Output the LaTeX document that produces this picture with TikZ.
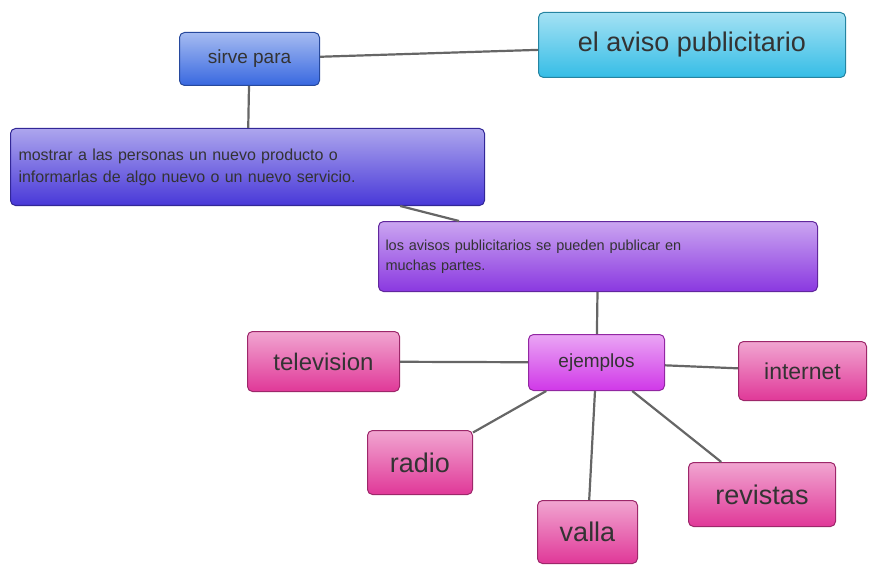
\documentclass[tikz,border=0pt]{standalone}
\usepackage{fontspec}
\setmainfont{Liberation Sans}
\begin{document}
\begin{tikzpicture}[x=1pt,y=-1pt,
  box/.style={draw=#1!70!black, line width=1pt, rounded corners=5pt, top color=#1!45!white, bottom color=#1, text=black!80, inner sep=0pt, anchor=north west},
  edge/.style={draw=black!60, line width=2.2pt}]
\useasboundingbox (0,0) rectangle (876,575);
\definecolor{cA}{HTML}{35BDE6}
\definecolor{cB}{HTML}{3868E0}
\definecolor{cC}{HTML}{4838D8}
\definecolor{cD}{HTML}{8A38E0}
\definecolor{cE}{HTML}{D038E8}
\definecolor{cF}{HTML}{E03898}
\node[box=cA, minimum width=307pt, minimum height=65pt, font=\fontsize{27}{30}\selectfont] (aviso) at (538,12) {el aviso publicitario};
\node[box=cB, minimum width=140pt, minimum height=53pt, font=\fontsize{19}{22}\selectfont] (sirve) at (179,32) {sirve para};
\node[box=cC, minimum width=474pt, minimum height=77pt, font=\fontsize{16}{22}\selectfont, align=left, text width=458pt, inner xsep=8pt] (mostrar) at (10,128) {mostrar a las personas un nuevo producto o\\informarlas de algo nuevo o un nuevo servicio.};
\node[box=cD, minimum width=439pt, minimum height=70pt, font=\fontsize{14.5}{20}\selectfont, align=left, text width=425pt, inner xsep=7pt] (avisos) at (378,221) {los avisos publicitarios se pueden publicar en\\muchas partes.};
\node[box=cE, minimum width=136pt, minimum height=56pt, font=\fontsize{19}{22}\selectfont] (ej) at (528,334) {ejemplos};
\node[box=cF, minimum width=152pt, minimum height=60pt, font=\fontsize{24}{28}\selectfont] (tv) at (247,331) {television};
\node[box=cF, minimum width=128pt, minimum height=59pt, font=\fontsize{23}{28}\selectfont] (int) at (738,341) {internet};
\node[box=cF, minimum width=105pt, minimum height=64pt, font=\fontsize{27}{30}\selectfont] (radio) at (367,430) {radio};
\node[box=cF, minimum width=100pt, minimum height=63pt, font=\fontsize{27}{30}\selectfont] (valla) at (537,500) {valla};
\node[box=cF, minimum width=147pt, minimum height=64pt, font=\fontsize{27}{30}\selectfont] (rev) at (688,462) {revistas};
\draw[edge] (aviso) -- (sirve);
\draw[edge] (sirve) -- (mostrar);
\draw[edge] (mostrar) -- (avisos);
\draw[edge] (avisos) -- (ej);
\draw[edge] (ej) -- (tv);
\draw[edge] (ej) -- (int);
\draw[edge] (ej) -- (radio);
\draw[edge] (ej) -- (valla);
\draw[edge] (ej) -- (rev);
\end{tikzpicture}
\end{document}
